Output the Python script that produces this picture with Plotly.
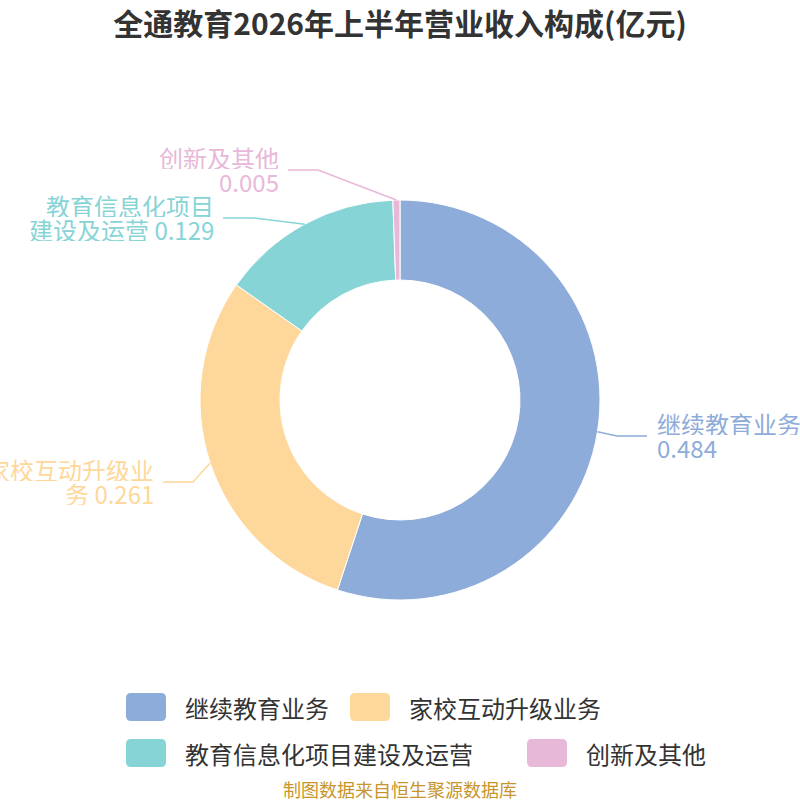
import math
import plotly.graph_objects as go

# Data
categories = ["继续教育业务", "家校互动升级业务", "教育信息化项目建设及运营", "创新及其他"]
values = [0.484, 0.261, 0.129, 0.005]
colors = ["#8eacd9", "#fed89a", "#87d4d6", "#e8b8d8"]

title = "全通教育2026年上半年营业收入构成(亿元)"
source = "制图数据来自恒生聚源数据库"

# Label layout (pixels in an 800x800 page)
label_elbow = [(617, 436), (193, 482), (253, 218), (318, 170)]
label_break = [6, 7, 7, 5]  # characters on the first line of each label
legend_x = [126, 350, 126, 527]
legend_y = [707, 707, 753, 753]

W = H = 800
CX, CY, R = 400, 400, 200
FONT = "Noto Sans CJK SC"


def px(x):
    return x / W


def py(y):
    return 1 - y / H


fig = go.Figure(go.Pie(
    labels=categories, values=values, hole=0.6, sort=False,
    direction="clockwise", rotation=0,
    marker=dict(colors=colors, line=dict(color="white", width=1)),
    textinfo="none", hoverinfo="label+value",
    domain=dict(x=[0.25, 0.75], y=[0.25, 0.75]),
    showlegend=False,
))

shapes = []
annotations = []

# Outside labels with leader lines
total = sum(values)
cum = 0
for i, (name, val) in enumerate(zip(categories, values)):
    mid = (cum + val / 2) / total * 2 * math.pi
    cum += val
    x0 = CX + R * math.sin(mid)
    y0 = CY - R * math.cos(mid)
    ex, ey = label_elbow[i]
    right = ex > CX
    hx = ex + 30 if right else ex - 30
    shapes.append(dict(
        type="path", xref="paper", yref="paper",
        path=f"M{px(x0)},{py(y0)} L{px(ex)},{py(ey)} L{px(hx)},{py(ey)}",
        line=dict(color=colors[i], width=1.5),
    ))
    text = f"{name} {val}"
    lines = [text[:label_break[i]].strip(), text[label_break[i]:].strip()]
    tx = hx + 8 if right else hx - 7
    for k, line in enumerate(lines):
        annotations.append(dict(
            text=line, x=px(tx), y=py(ey - 13 + 24 * k), height=24,
            xref="paper", yref="paper", showarrow=False,
            xanchor="left" if right else "right", yanchor="middle",
            font=dict(family=FONT, size=24, color=colors[i]),
        ))

# Legend drawn by hand: rounded swatches plus text
for i, name in enumerate(categories):
    x0, yc = legend_x[i], legend_y[i]
    x1, y0, y1, r = x0 + 40, yc - 14, yc + 14, 5
    path = (f"M{px(x0 + r)},{py(y0)} L{px(x1 - r)},{py(y0)} "
            f"Q{px(x1)},{py(y0)} {px(x1)},{py(y0 + r)} L{px(x1)},{py(y1 - r)} "
            f"Q{px(x1)},{py(y1)} {px(x1 - r)},{py(y1)} L{px(x0 + r)},{py(y1)} "
            f"Q{px(x0)},{py(y1)} {px(x0)},{py(y1 - r)} L{px(x0)},{py(y0 + r)} "
            f"Q{px(x0)},{py(y0)} {px(x0 + r)},{py(y0)} Z")
    shapes.append(dict(type="path", xref="paper", yref="paper", path=path,
                       fillcolor=colors[i], line=dict(width=0)))
    annotations.append(dict(
        text=name, x=px(x1 + 17), y=py(yc), xref="paper", yref="paper",
        showarrow=False, xanchor="left", yanchor="middle",
        font=dict(family=FONT, size=24, color="#333333"),
    ))

annotations.append(dict(
    text=source, x=0.5, y=py(789), xref="paper", yref="paper",
    showarrow=False, xanchor="center", yanchor="middle",
    font=dict(family=FONT, size=18, color="#c8952c"),
))

fig.update_layout(
    title=dict(text=f"<b>{title}</b>", x=0.5, xanchor="center",
               y=py(24), yanchor="middle",
               font=dict(family=FONT, size=30, color="#333333")),
    width=W, height=H,
    margin=dict(l=0, r=0, t=0, b=0),
    paper_bgcolor="white", plot_bgcolor="white",
    shapes=shapes, annotations=annotations,
    font=dict(family=FONT),
)

# drop the browser's default 8px body margin so the figure fills the window
fig.write_html("out.html", config={"displayModeBar": False},
               post_script="document.body.style.margin='0';")
